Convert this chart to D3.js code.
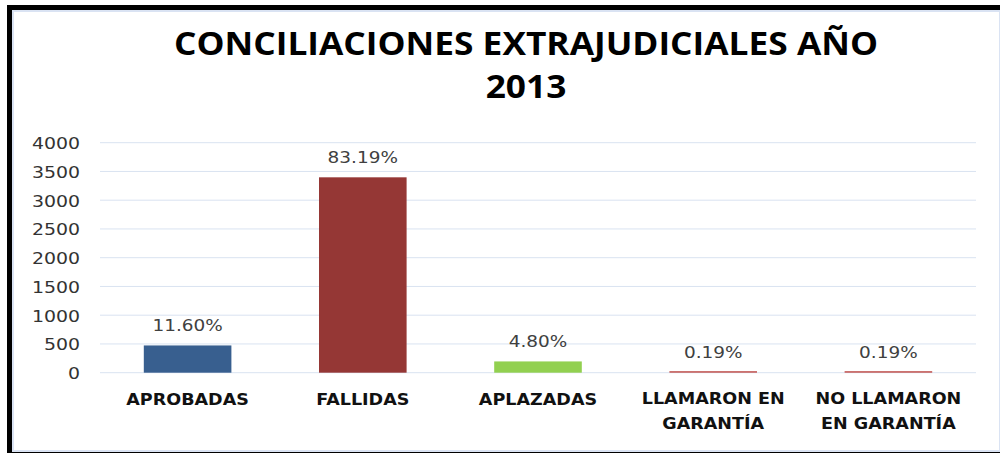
<!DOCTYPE html>
<html>
<head>
<meta charset="utf-8">
<script src="https://cdn.jsdelivr.net/npm/d3@7"></script>
<style>
  html, body { margin: 0; padding: 0; background: #fff; }
  svg { display: block; }
</style>
</head>
<body>
<div class="chart"></div>
<script>
// data
const categories = ['APROBADAS', 'FALLIDAS', 'APLAZADAS', 'LLAMARON EN GARANTÍA', 'NO LLAMARON EN GARANTÍA'];
const categoryLines = [['APROBADAS'], ['FALLIDAS'], ['APLAZADAS'], ['LLAMARON EN', 'GARANTÍA'], ['NO LLAMARON', 'EN GARANTÍA']];
const values = [474, 3398, 196, 8, 8];
const percentLabels = ['11.60%', '83.19%', '4.80%', '0.19%', '0.19%'];
const yTicks = [0, 500, 1000, 1500, 2000, 2500, 3000, 3500, 4000];
const titleLines = ['CONCILIACIONES EXTRAJUDICIALES AÑO', '2013'];
const barColors = ['#385f8f', '#953735', '#92d050', '#c0504d', '#c0504d'];

const width = 1000, height = 453;
const margin = { top: 142.7, right: 24, bottom: 80.3, left: 100 };

const svg = d3.select('.chart').append('svg')
  .attr('width', width)
  .attr('height', height);

// chart area frame: light blue border with the black shadow band
svg.append('rect')
  .attr('x', 7).attr('y', 5)
  .attr('width', width - 7).attr('height', height - 5)
  .attr('fill', '#000');
svg.append('rect')
  .attr('x', 13).attr('y', 11)
  .attr('width', width - 13).attr('height', 440)
  .attr('fill', '#fff')
  .attr('stroke', '#dae3f3')
  .attr('stroke-width', 2);

const x = d3.scaleBand()
  .domain(categories)
  .range([margin.left, width - margin.right])
  .paddingInner(0.5)
  .paddingOuter(0.25);

const y = d3.scaleLinear()
  .domain([0, 4000])
  .range([height - margin.bottom, margin.top]);

// stretch a text horizontally (the picture is wider than the fonts)
function stretch(sel, k) {
  sel.each(function () {
    const w = this.getComputedTextLength();
    d3.select(this).attr('textLength', w * k).attr('lengthAdjust', 'spacingAndGlyphs');
  });
}

// gridlines
svg.append('g')
  .selectAll('line')
  .data(yTicks)
  .join('line')
  .attr('x1', margin.left)
  .attr('x2', width - margin.right)
  .attr('y1', d => y(d))
  .attr('y2', d => y(d))
  .attr('stroke', '#d9e3f1')
  .attr('stroke-width', 1);

// y axis labels
const yAxis = svg.append('g')
  .attr('transform', `translate(80,0)`)
  .call(d3.axisLeft(y).tickValues(yTicks).tickSize(0).tickPadding(0).tickFormat(d3.format('d')));
yAxis.select('.domain').remove();
yAxis.selectAll('text')
  .attr('dy', null)
  .attr('y', 6)
  .style('font-family', 'DejaVu Sans')
  .style('font-size', '15px')
  .attr('fill', '#333');
stretch(yAxis.selectAll('text'), 1.26);

// bars
svg.append('g')
  .selectAll('rect')
  .data(values)
  .join('rect')
  .attr('x', (d, i) => x(categories[i]))
  .attr('width', x.bandwidth())
  .attr('y', d => Math.min(y(d), y(0) - 1.5))
  .attr('height', d => Math.max(1.5, y(0) - y(d)))
  .attr('fill', (d, i) => barColors[i]);

// percentage labels
const pct = svg.append('g')
  .selectAll('text')
  .data(values)
  .join('text')
  .attr('x', (d, i) => x(categories[i]) + x.bandwidth() / 2)
  .attr('y', d => y(d) - 14)
  .attr('text-anchor', 'middle')
  .style('font-family', 'DejaVu Sans')
  .style('font-size', '15px')
  .attr('fill', '#404040')
  .text((d, i) => percentLabels[i]);
stretch(pct, 1.23);

// category labels
const cat = svg.append('g')
  .selectAll('text')
  .data(categories)
  .join('text')
  .attr('text-anchor', 'middle')
  .style('font-family', 'DejaVu Sans')
  .style('font-weight', 'bold')
  .style('font-size', '15px')
  .attr('fill', '#111');
cat.each(function (d, i) {
  const lines = categoryLines[i];
  const cx = x(d) + x.bandwidth() / 2;
  d3.select(this).selectAll('tspan')
    .data(lines)
    .join('tspan')
    .attr('x', cx)
    .attr('y', (l, j) => (lines.length > 1 ? 404 : 405) + j * 25)
    .text(l => l);
});
cat.selectAll('tspan').each(function () {
  const w = this.getComputedTextLength();
  d3.select(this).attr('textLength', w * 1.17).attr('lengthAdjust', 'spacingAndGlyphs');
});

// title
const title = svg.append('g')
  .selectAll('text')
  .data(titleLines)
  .join('text')
  .attr('x', 526)
  .attr('y', (d, i) => 55 + i * 43)
  .attr('text-anchor', 'middle')
  .style('font-family', 'Open Sans')
  .style('font-weight', 'bold')
  .style('font-size', '32px')
  .attr('fill', '#000')
  .text(d => d);
const k = 704 / title.node().getComputedTextLength();
stretch(title, k);
</script>
</body>
</html>
